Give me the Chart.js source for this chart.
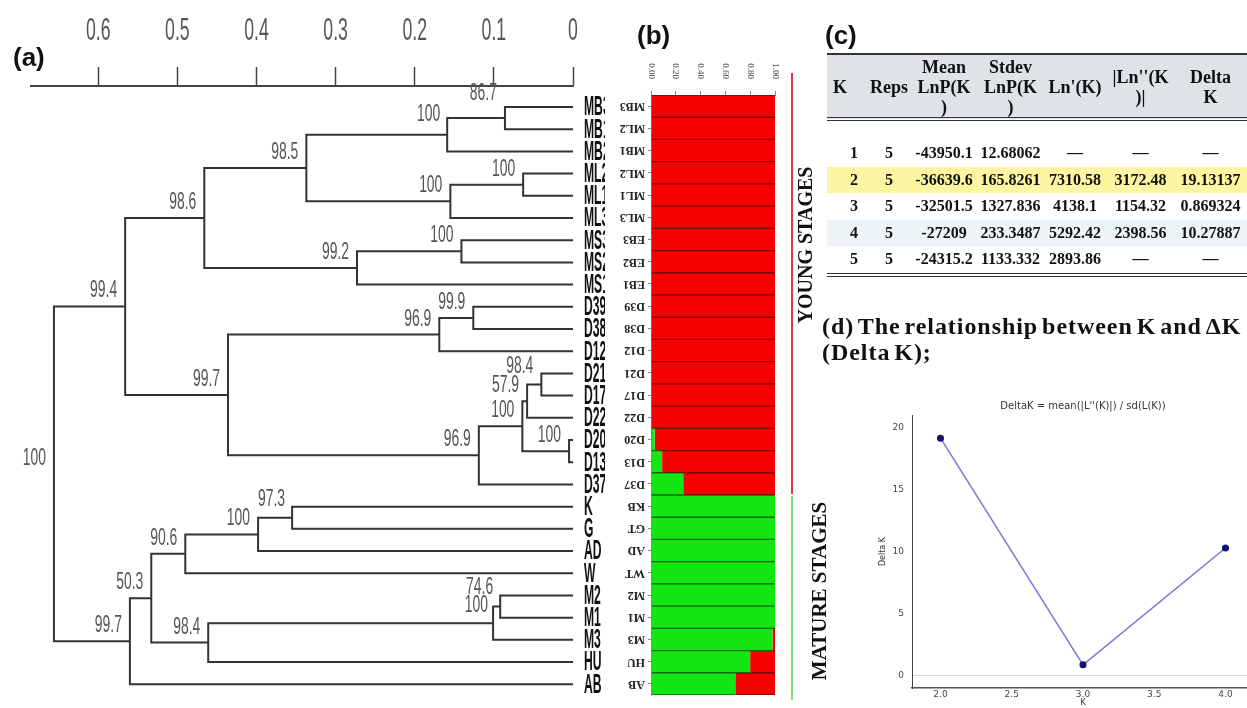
<!DOCTYPE html>
<html>
<head>
<meta charset="utf-8">
<script src="https://cdn.jsdelivr.net/npm/chart.js@4.4.1/dist/chart.umd.min.js"></script>
<style>
body { margin: 0; width: 1247px; height: 708px; overflow: hidden; background: #fff; position: relative; }
canvas { position: absolute; }
#dendro { left: 0; top: 0; }
#structure { left: 605px; top: 0; }
#deltak { left: 860px; top: 380px; }
.panel { position: absolute; font: bold 26px 'Liberation Sans', Arial, sans-serif; color: #111; line-height: 26px; }
#evanno { position: absolute; left: 827px; top: 53px; width: 420px; border-collapse: collapse; table-layout: fixed;
  font-family: 'Liberation Serif', serif; font-weight: bold; color: #111;
  border-top: 2px solid #333; border-bottom: 4px double #333; }
#evanno thead tr { height: 63px; background: #dde3e6; }
#evanno th { font-size: 18px; line-height: 20px; padding: 2px 0 0 0; text-align: center; vertical-align: middle;
  border-bottom: 4px double #333; white-space: nowrap; font-weight: bold; }
#evanno th.k { text-align: left; padding-left: 6px; }
#evanno td { font-size: 16px; padding: 0; text-align: center; height: 26.5px; white-space: nowrap; }
#evanno td.k { text-align: right; padding-right: 10px; }
#evanno tr.gap td { height: 19px; }
#evanno tr.hl td { background: #fcf5a2; }
#evanno tr.alt td { background: #edf4f7; }
#dhead { position: absolute; left: 822px; top: 313px; font: bold 24px 'Liberation Serif', serif; line-height: 26px;
  color: #111; word-spacing: -3px; letter-spacing: 0.95px; white-space: nowrap; }
</style>
</head>
<body>
<canvas id="dendro" width="605" height="708"></canvas>
<canvas id="structure" width="240" height="708"></canvas>
<div class="panel" style="left:13px;top:44px">(a)</div>
<div class="panel" style="left:637px;top:22px">(b)</div>
<div class="panel" style="left:825px;top:22px">(c)</div>
<table id="evanno">
  <colgroup>
    <col style="width:41px"><col style="width:42px"><col style="width:68px"><col style="width:65px">
    <col style="width:64px"><col style="width:67px"><col style="width:73px">
  </colgroup>
  <thead>
    <tr><th class="k">K</th><th>Reps</th><th>Mean<br>LnP(K<br>)</th><th>Stdev<br>LnP(K<br>)</th>
      <th>Ln'(K)</th><th>|Ln''(K<br>)|</th><th>Delta<br>K</th></tr>
  </thead>
  <tbody id="evannoBody"></tbody>
</table>
<div id="dhead">(d) The relationship between K and ΔK<br>(Delta K);</div>
<canvas id="deltak" width="400" height="328"></canvas>

<script>
// ---------- (a) dendrogram ----------
const leafNames = ['MB3', 'MB1', 'MB2', 'ML2', 'ML1', 'ML3', 'MS3', 'MS2', 'MS1', 'D39', 'D38', 'D12', 'D21', 'D17',
  'D22', 'D20', 'D13', 'D37', 'K', 'G', 'AD', 'W', 'M2', 'M1', 'M3', 'HU', 'AB'];
// merges in order; "nX" points to merge number X
const mergeLeft = ['MB3', 'n0', 'ML2', 'n2', 'n1', 'MS3', 'n5', 'n4', 'D39', 'n8', 'D21', 'n10', 'D20', 'n11', 'n13',
  'n9', 'n7', 'K', 'n17', 'n18', 'M2', 'n20', 'n21', 'n19', 'n23', 'n16'];
const mergeRight = ['MB1', 'MB2', 'ML1', 'ML3', 'n3', 'MS2', 'MS1', 'n6', 'D38', 'D12', 'D17', 'D22', 'D13', 'n12', 'D37',
  'n14', 'n15', 'G', 'AD', 'W', 'M1', 'M3', 'HU', 'n22', 'AB', 'n24'];
const mergeHeight = [0.086, 0.159, 0.063, 0.155, 0.337, 0.141, 0.273, 0.466, 0.126, 0.169, 0.040, 0.058, 0.005, 0.064,
  0.119, 0.436, 0.566, 0.355, 0.398, 0.490, 0.092, 0.101, 0.461, 0.533, 0.560, 0.656];
const bootstrap = ['86.7', '100', '100', '100', '98.5', '100', '99.2', '98.6', '99.9', '96.9', '98.4', '57.9', '100', '100',
  '96.9', '99.7', '99.4', '97.3', '100', '90.6', '74.6', '100', '98.4', '50.3', '99.7', '100'];

// ---------- (b) structure plot ----------
const barLabels = ['MB3', 'ML2', 'MB1', 'ML2', 'ML1', 'ML3', 'EB3', 'EB2', 'EB1', 'D39', 'D38', 'D12', 'D21', 'D17',
  'D22', 'D20', 'D13', 'D37', 'KB', 'GT', 'AD', 'WT', 'M2', 'M1', 'M3', 'HU', 'AB'];
const greenShare = [0, 0, 0, 0, 0, 0, 0, 0, 0, 0, 0, 0, 0, 0, 0, 0.03, 0.09, 0.26, 1, 1, 1, 1, 1, 1, 0.98, 0.80, 0.68];
const redShare = [1, 1, 1, 1, 1, 1, 1, 1, 1, 1, 1, 1, 1, 1, 1, 0.97, 0.91, 0.74, 0, 0, 0, 0, 0, 0, 0.02, 0.20, 0.32];

// ---------- (c) Evanno table / (d) delta K ----------
const kValues = [1, 2, 3, 4, 5];
const reps = [5, 5, 5, 5, 5];
const meanLnP = ['-43950.1', '-36639.6', '-32501.5', '-27209', '-24315.2'];
const stdevLnP = ['12.68062', '165.8261', '1327.836', '233.3487', '1133.332'];
const lnPrime = [null, '7310.58', '4138.1', '5292.42', '2893.86'];
const lnDoublePrime = [null, '3172.48', '1154.32', '2398.56', null];
const deltaK = [null, 19.13137, 0.869324, 10.27887, null];
const deltaKText = [null, '19.13137', '0.869324', '10.27887', null];

// tree geometry in data units (height, leaf row)
function nodeAt(name, nodes) {
    if (/^n\d+$/.test(name)) {
        return nodes[+name.slice(1)];
    }
    return {x: 0, y: leafNames.indexOf(name)};
}

const treeNodes = [];
const treePath = [];
mergeLeft.forEach(function (a, i) {
    const pa = nodeAt(a, treeNodes);
    const pb = nodeAt(mergeRight[i], treeNodes);
    const h = mergeHeight[i];
    treeNodes.push({x: h, y: (pa.y + pb.y) / 2});
    treePath.push({x: pa.x, y: pa.y}, {x: h, y: pa.y}, {x: h, y: pb.y}, {x: pb.x, y: pb.y}, {x: NaN, y: NaN});
});

// label nudges (px) for crowded bootstrap values
const supportNudge = {0: [-8, -18], 1: [-7, -14], 10: [-8, -12], 17: [-7, -12], 20: [-7, -13], 21: [-5, -11]};

function squeezeText(ctx, text, x, y, sx) {
    ctx.save();
    ctx.translate(x, y);
    ctx.scale(sx, 1);
    ctx.fillText(text, 0, 0);
    ctx.restore();
}

const dendroText = {
    id: 'dendroText',
    afterDraw(chart) {
        const {ctx, scales: {x, y}} = chart;
        ctx.save();
        // distance scale numbers
        ctx.fillStyle = '#555';
        ctx.font = '31px "Liberation Sans", Arial, sans-serif';
        ctx.textAlign = 'center';
        ctx.textBaseline = 'middle';
        x.ticks.forEach(function (t) {
            squeezeText(ctx, String(+t.value.toFixed(1)), x.getPixelForValue(t.value), 31, 0.57);
        });
        // leaf names
        ctx.fillStyle = '#111';
        ctx.font = 'bold 27px "Liberation Sans", Arial, sans-serif';
        ctx.textAlign = 'left';
        leafNames.forEach(function (name, i) {
            squeezeText(ctx, name, x.getPixelForValue(0) + 11, y.getPixelForValue(i) + 1, 0.45);
        });
        // bootstrap values
        ctx.fillStyle = '#555';
        ctx.font = '24px "Liberation Sans", Arial, sans-serif';
        ctx.textAlign = 'right';
        ctx.textBaseline = 'alphabetic';
        treeNodes.forEach(function (n, i) {
            const d = supportNudge[i] || [-8, -9];
            squeezeText(ctx, bootstrap[i], x.getPixelForValue(n.x) + d[0], y.getPixelForValue(n.y) + d[1], 0.58);
        });
        ctx.restore();
    }
};

new Chart(document.getElementById('dendro'), {
    type: 'scatter',
    data: {
        datasets: [{
            data: treePath,
            showLine: true,
            spanGaps: false,
            borderColor: '#333',
            borderWidth: 2,
            pointRadius: 0,
            borderJoinStyle: 'miter',
        }],
    },
    options: {
        responsive: false,
        animation: false,
        layout: {padding: {left: 31, right: 32, top: 0, bottom: 0}},
        plugins: {legend: {display: false}, tooltip: {enabled: false}},
        scales: {
            x: {
                type: 'linear',
                position: 'top',
                reverse: true,
                min: 0,
                max: 0.685,
                afterFit: function (s) { s.height = 86; },
                ticks: {stepSize: 0.1, includeBounds: false, display: false},
                grid: {drawOnChartArea: false, drawTicks: true, tickLength: 19, tickColor: '#444', tickWidth: 1.5},
                border: {color: '#444', width: 2},
            },
            y: {type: 'linear', display: false, reverse: true, min: -0.946, max: 27.07},
        },
    },
    plugins: [dendroText],
});

// ---------- (b) ----------
const structureText = {
    id: 'structureText',
    afterDraw(chart) {
        const {ctx, chartArea: a, scales: {x, y}} = chart;
        ctx.save();
        // upside-down sample names
        ctx.font = 'bold 12px "Liberation Serif", serif';
        ctx.fillStyle = '#222';
        ctx.textAlign = 'left';
        ctx.textBaseline = 'middle';
        barLabels.forEach(function (lab, i) {
            ctx.save();
            ctx.translate(a.left - 6, y.getPixelForValue(i));
            ctx.rotate(Math.PI);
            ctx.fillText(lab, 0, 0);
            ctx.restore();
        });
        // share ticks
        ctx.font = '9px "Liberation Serif", serif';
        ctx.fillStyle = '#444';
        ctx.textAlign = 'center';
        x.ticks.forEach(function (t) {
            ctx.save();
            ctx.translate(x.getPixelForValue(t.value), a.top - 24);
            ctx.rotate(Math.PI / 2);
            ctx.fillText(t.value.toFixed(2), 0, 0);
            ctx.restore();
        });
        // group brackets
        const split = (y.getPixelForValue(17) + y.getPixelForValue(18)) / 2;
        const lx = a.right + 17;
        ctx.lineWidth = 2;
        ctx.strokeStyle = '#dd3a3a';
        ctx.beginPath();
        ctx.moveTo(lx, a.top - 22);
        ctx.lineTo(lx, split - 1);
        ctx.stroke();
        ctx.strokeStyle = '#77dd77';
        ctx.beginPath();
        ctx.moveTo(lx, split + 1);
        ctx.lineTo(lx, a.bottom + 5);
        ctx.stroke();
        ctx.fillStyle = '#111';
        ctx.textAlign = 'center';
        ctx.font = 'bold 20px "Liberation Serif", serif';
        ctx.save();
        ctx.translate(a.right + 32, 245);
        ctx.rotate(-Math.PI / 2);
        ctx.fillText('YOUNG STAGES', 0, 0);
        ctx.restore();
        ctx.font = 'bold 21px "Liberation Serif", serif';
        ctx.save();
        ctx.translate(a.right + 46, 591);
        ctx.rotate(-Math.PI / 2);
        ctx.fillText('MATURE STAGES', 0, 0);
        ctx.restore();
        ctx.restore();
    }
};

new Chart(document.getElementById('structure'), {
    type: 'bar',
    data: {
        labels: barLabels,
        datasets: [
            {
                data: greenShare,
                backgroundColor: '#14e614',
                borderColor: '#0b6a0b',
                borderWidth: {top: 1, bottom: 1, left: 0, right: 0},
                borderSkipped: false,
            },
            {
                data: redShare,
                backgroundColor: '#f70000',
                borderColor: '#7a0000',
                borderWidth: {top: 1, bottom: 1, left: 0, right: 0},
                borderSkipped: false,
            },
        ],
    },
    options: {
        indexAxis: 'y',
        responsive: false,
        animation: false,
        layout: {padding: {right: 70, bottom: 13}},
        datasets: {bar: {barPercentage: 1, categoryPercentage: 1}},
        plugins: {legend: {display: false}, tooltip: {enabled: false}},
        scales: {
            x: {
                stacked: true,
                position: 'top',
                min: 0,
                max: 1,
                afterFit: function (s) { s.height = 95; },
                ticks: {stepSize: 0.2, display: false},
                grid: {drawOnChartArea: false, tickLength: 4, tickColor: '#888'},
                border: {color: '#888'},
            },
            y: {
                stacked: true,
                afterFit: function (s) { s.width = 46; },
                ticks: {display: false},
                grid: {drawOnChartArea: false, offset: false, tickLength: 3, tickColor: '#888'},
                border: {color: '#888'},
            },
        },
    },
    plugins: [structureText],
});

// ---------- (c) table ----------
const body = document.getElementById('evannoBody');
body.insertAdjacentHTML('beforeend', '<tr class="gap"><td colspan="7"></td></tr>');
const dash = '\u2014';
kValues.forEach(function (k, i) {
    const cls = i === 1 ? 'hl' : (i === 3 ? 'alt' : '');
    const cells = [meanLnP[i], stdevLnP[i], lnPrime[i] || dash, lnDoublePrime[i] || dash, deltaKText[i] || dash];
    body.insertAdjacentHTML('beforeend', '<tr class="' + cls + '"><td class="k">' + k + '</td><td>' + reps[i] + '</td>' +
        cells.map(function (c) { return '<td>' + c + '</td>'; }).join('') + '</tr>');
});

// ---------- (d) delta K ----------
const kPoints = [];
kValues.forEach(function (k, i) {
    if (deltaK[i] !== null) {
        kPoints.push({x: k, y: deltaK[i]});
    }
});

const smallFont = {family: 'DejaVu Sans', size: 8};
const tickFont = {family: 'DejaVu Sans', size: 9};

new Chart(document.getElementById('deltak'), {
    type: 'scatter',
    data: {
        datasets: [{
            data: kPoints,
            showLine: true,
            borderColor: 'rgba(95,95,215,0.85)',
            borderWidth: 1.5,
            pointRadius: 2.8,
            pointBackgroundColor: '#14146e',
            pointBorderColor: '#14146e',
        }],
    },
    options: {
        responsive: false,
        animation: false,
        layout: {padding: {right: 6, bottom: 0}},
        plugins: {
            legend: {display: false},
            tooltip: {enabled: false},
            title: {
                display: true,
                text: "DeltaK = mean(|L''(K)|) / sd(L(K))",
                fullSize: false,
                color: '#333',
                font: {family: 'DejaVu Sans', size: 10, weight: 'normal'},
                padding: {top: 20, bottom: 3},
            },
        },
        scales: {
            x: {
                type: 'linear',
                min: 1.8,
                max: 4.2,
                afterFit: function (s) { s.height = 20; },
                ticks: {stepSize: 0.5, includeBounds: false, maxRotation: 0, font: tickFont, color: '#444', padding: 1,
                    callback: function (v) { return v.toFixed(1); }},
                grid: {display: false, drawTicks: false},
                border: {color: '#555', width: 1.5},
                title: {display: true, text: 'K', font: smallFont, color: '#333', padding: 0},
            },
            y: {
                min: -1,
                max: 21,
                afterFit: function (s) { s.width = 52; },
                ticks: {stepSize: 5, includeBounds: false, font: tickFont, color: '#444', padding: 8},
                grid: {
                    drawTicks: false,
                    color: function (c) { return c.tick && c.tick.value === 0 ? '#dcdcdc' : 'rgba(0,0,0,0)'; },
                },
                border: {color: '#444', width: 1},
                title: {display: true, text: 'Delta K', font: smallFont, color: '#333', padding: {top: 18, bottom: 0}},
            },
        },
    },
});
</script>
</body>
</html>
